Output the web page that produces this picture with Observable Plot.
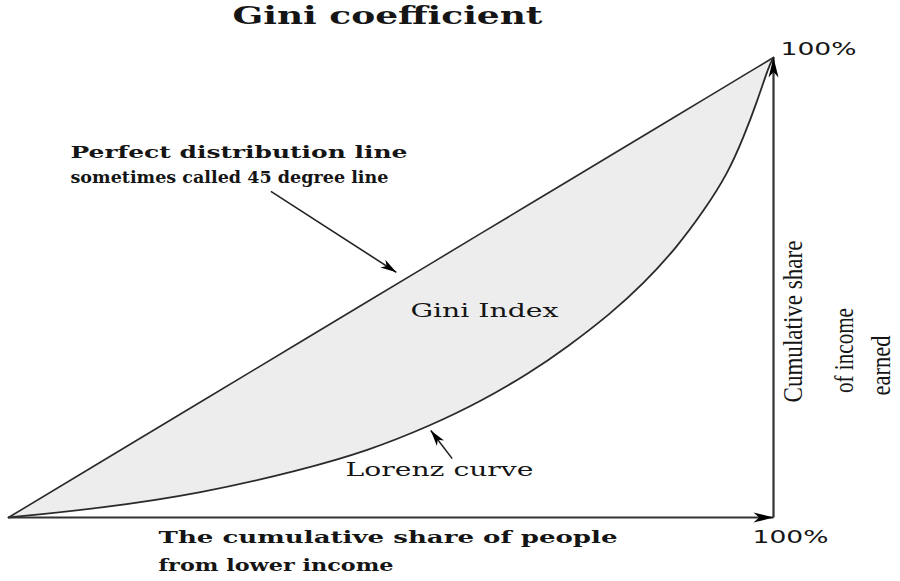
<!DOCTYPE html>
<html>
<head>
<meta charset="utf-8">
<script src="https://cdn.jsdelivr.net/npm/d3@7"></script>
<script src="https://cdn.jsdelivr.net/npm/@observablehq/plot@0.6"></script>
<style>
  html, body { margin: 0; padding: 0; background: #fff; }
  #chart svg { display: block; }
</style>
</head>
<body>
<div id="chart"></div>
<script>
// ---- Data: cumulative share of people (%) ----
const share  = [0, 12, 25.1, 38.2, 47, 55.2, 61.7, 68.2, 73, 78.7, 83, 87.4, 90.9, 94, 96.1, 97.9, 99.35, 100];
// ---- Lorenz curve: cumulative share of income earned (%) ----
const lorenz = [0, 2, 5.2, 10.3, 14.5, 20, 25.2, 31.5, 37, 44.3, 50.8, 58.8, 66.7, 74.7, 82.7, 90.6, 98, 100];

// axis arrows (data space, %)
const axisArrows = [
  {x1: 0, y1: 0, x2: 100, y2: 0},
  {x1: 100, y1: 0, x2: 100, y2: 100}
];
// annotation arrows (data space, %)
const noteArrows = [
  {x1: 34.3, y1: 70.9, x2: 50.7, y2: 53.3},
  {x1: 58.0, y1: 12.8, x2: 55.2, y2: 18.9}
];

// text labels
const labels = [
  {text: "Gini coefficient", x: 49.54, y: 108.9, anchor: "middle", font: "DejaVu Serif", size: 24, weight: "bold", len: 310, rot: 0},
  {text: "Perfect distribution line", x: 8.1, y: 79.35, anchor: "start", font: "DejaVu Serif", size: 17, weight: "bold", len: 337, rot: 0},
  {text: "sometimes called 45 degree line", x: 8.1, y: 73.91, anchor: "start", font: "DejaVu Serif", size: 17, weight: "bold", len: 318, rot: 0},
  {text: "Gini Index", x: 62.22, y: 44.78, anchor: "middle", font: "DejaVu Serif", size: 18, weight: "normal", len: 148, rot: 0},
  {text: "Lorenz curve", x: 56.34, y: 10.22, anchor: "middle", font: "DejaVu Serif", size: 18, weight: "normal", len: 188, rot: 0},
  {text: "The cumulative share of people", x: 19.61, y: -4.35, anchor: "start", font: "DejaVu Serif", size: 17, weight: "bold", len: 459, rot: 0},
  {text: "from lower income", x: 19.61, y: -10.43, anchor: "start", font: "DejaVu Serif", size: 17, weight: "bold", len: 235, rot: 0},
  {text: "100%", x: 100.92, y: 101.74, anchor: "start", font: "DejaVu Sans", size: 17, weight: "normal", len: 75, rot: 0},
  {text: "100%", x: 97.25, y: -4.35, anchor: "start", font: "DejaVu Sans", size: 17, weight: "normal", len: 76, rot: 0},
  {text: "Cumulative share", x: 102.61, y: 42.61, anchor: "middle", font: "Liberation Serif", size: 28, weight: "normal", len: 162, rot: -90},
  {text: "of income", x: 109.28, y: 36.3, anchor: "middle", font: "Liberation Serif", size: 28, weight: "normal", len: 85, rot: -90},
  {text: "earned", x: 114.12, y: 33.04, anchor: "middle", font: "Liberation Serif", size: 28, weight: "normal", len: 60, rot: -90}
];

// ---- Layout: scale domains ----
const W = 900, H = 581;
const X_MIN = -1.0458, X_MAX = 116.601;
const Y_MIN = -13.913, Y_MAX = 112.391;
const kx = W / (X_MAX - X_MIN), ky = H / (Y_MAX - Y_MIN);

const rows = share.map((s, i) => ({share: s, lorenz: lorenz[i]}));
const angleOf = a => Math.atan2(-(a.y2 - a.y1) * ky, (a.x2 - a.x1) * kx) * 180 / Math.PI;
const axisHeads = axisArrows.map(a => ({...a, angle: angleOf(a)}));
const noteHeads = noteArrows.map(a => ({...a, angle: angleOf(a)}));

function headSymbol(L, Wd) {
  return {
    draw(ctx) {
      ctx.moveTo(0, 0);
      ctx.lineTo(-L, -Wd / 2);
      ctx.lineTo(-L * 0.72, 0);
      ctx.lineTo(-L, Wd / 2);
      ctx.closePath();
    }
  };
}

const textMarks = labels.map(l => Plot.text([l], {
  x: "x", y: "y", text: "text",
  textAnchor: l.anchor, lineAnchor: "middle",
  fontFamily: l.font, fontSize: l.size, fontWeight: l.weight,
  rotate: l.rot, fill: "#151515"
}));

const plot = Plot.plot({
  width: W, height: H, margin: 0,
  x: {domain: [X_MIN, X_MAX], axis: null},
  y: {domain: [Y_MIN, Y_MAX], axis: null},
  style: {background: "#fff"},
  marks: [
    Plot.areaY(rows, {x: "share", y1: "lorenz", y2: "share", fill: "#ededed", curve: "basis"}),
    Plot.line(rows, {x: "share", y: "share", stroke: "#2a2a2a", strokeWidth: 1.6}),
    Plot.line(rows, {x: "share", y: "lorenz", stroke: "#2a2a2a", strokeWidth: 1.8, curve: "basis"}),
    Plot.link(axisArrows, {x1: "x1", y1: "y1", x2: "x2", y2: "y2", stroke: "#333", strokeWidth: 2.2}),
    Plot.dot(axisHeads, {x: "x2", y: "y2", rotate: "angle", symbol: headSymbol(20, 10), fill: "#000", stroke: "none"}),
    Plot.link(noteArrows, {x1: "x1", y1: "y1", x2: "x2", y2: "y2", stroke: "#222", strokeWidth: 1.6}),
    Plot.dot(noteHeads, {x: "x2", y: "y2", rotate: "angle", symbol: headSymbol(16, 9), fill: "#000", stroke: "none"}),
    ...textMarks
  ]
});

// fit each label to the width it has in the reference
const lenByText = new Map(labels.map(l => [l.text, l.len]));
plot.querySelectorAll("text").forEach(t => {
  const len = lenByText.get(t.textContent);
  if (len) {
    t.setAttribute("textLength", len);
    t.setAttribute("lengthAdjust", "spacingAndGlyphs");
  }
});

document.getElementById("chart").appendChild(plot);
</script>
</body>
</html>
